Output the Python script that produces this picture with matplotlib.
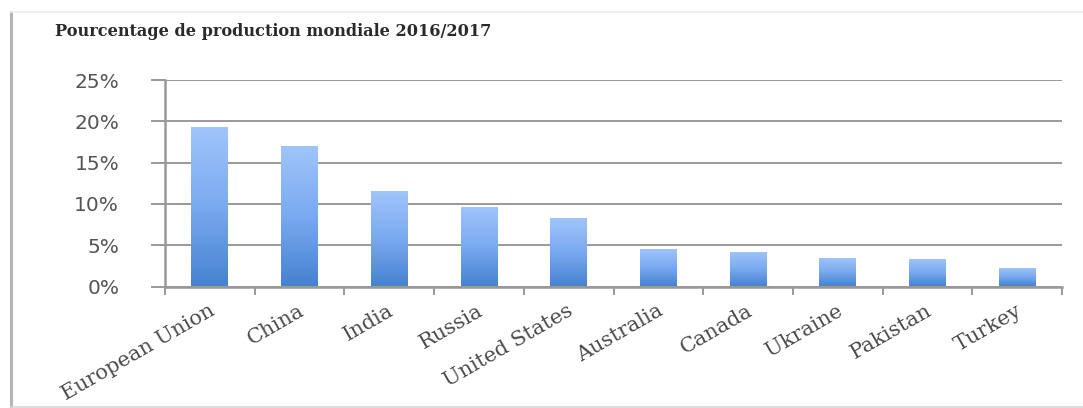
import numpy as np
import matplotlib
matplotlib.use("Agg")
import matplotlib.pyplot as plt
from matplotlib.lines import Line2D
from matplotlib.transforms import ScaledTranslation

# Share of world production, 2016/2017 (percent)
countries = ["European Union", "China", "India", "Russia", "United States",
             "Australia", "Canada", "Ukraine", "Pakistan", "Turkey"]
shares = [19.3, 17.0, 11.6, 9.6, 8.3, 4.6, 4.2, 3.5, 3.3, 2.2]
y_ticks = [0, 5, 10, 15, 20, 25]
y_tick_labels = ["0%", "5%", "10%", "15%", "20%", "25%"]
title_text = "Pourcentage de production mondiale 2016/2017"

W, H = 1083, 408
fig = plt.figure(figsize=(W / 100, H / 100), dpi=100)
fig.patch.set_facecolor("white")

ax = fig.add_axes([165 / W, 1 - 286.5 / H, (1062 - 165) / W, (286.5 - 80) / H])
ax.set_facecolor("white")

x = np.arange(len(countries))
bars = ax.bar(x, shares, width=0.41, facecolor="none", edgecolor="none", zorder=3)

# vertical blue gradient inside each bar
grad = np.linspace(0, 1, 256).reshape(-1, 1)
cmap = matplotlib.colors.LinearSegmentedColormap.from_list(
    "barblue", ["#4682d0", "#7aaaf0", "#a0c5fa"])
for b in bars:
    x0, w, h = b.get_x(), b.get_width(), b.get_height()
    im = ax.imshow(grad, cmap=cmap, origin="lower", aspect="auto",
                   extent=[x0, x0 + w, 0, h], zorder=3, interpolation="bilinear")
    im.set_clip_path(b)

ax.set_xlim(-0.5, len(countries) - 0.5)
ax.set_ylim(0, 25)

grid_col = "#999999"
ax.set_yticks(y_ticks)
ax.set_yticklabels(y_tick_labels, fontsize=14.5, color="#555555",
                   family="DejaVu Sans")
ax.tick_params(axis="y", direction="out", length=10, width=1.4,
               color=grid_col, pad=23)
ax.yaxis.grid(True, color=grid_col, linewidth=1.4, zorder=1)
ax.set_axisbelow(True)

ax.set_xticks(x)
ax.set_xticklabels(countries, rotation=30, ha="right", va="center",
                   rotation_mode="anchor", fontsize=15, color="#4a4a4a",
                   family="DejaVu Serif")
ax.tick_params(axis="x", which="major", length=0, pad=0)
ax.set_xticks(np.arange(-0.5, len(countries) + 0.5, 1), minor=True)
ax.tick_params(axis="x", which="minor", direction="out", length=6,
               width=1.4, color=grid_col)
shift = ScaledTranslation(3 / 100, -23 / 100, fig.dpi_scale_trans)
for lab in ax.get_xticklabels():
    lab.set_transform(lab.get_transform() + shift)

for side in ("top", "right"):
    ax.spines[side].set_visible(False)
for side in ("left", "bottom"):
    ax.spines[side].set_color(grid_col)
    ax.spines[side].set_linewidth(1.8)

fig.text(55 / W, 1 - 32 / H, title_text, fontsize=11.6, fontweight="bold",
         family="DejaVu Serif", color="#2a2a2a", ha="left", va="center")

# outer chart frame
fig.add_artist(Line2D([11 / W, 11 / W], [1 - 12 / H, 1 - 407 / H],
                      transform=fig.transFigure, color="#b4b4b4", linewidth=2.2))
fig.add_artist(Line2D([11 / W, 1], [1 - 12 / H, 1 - 12 / H],
                      transform=fig.transFigure, color="#ececec", linewidth=1.2))
fig.add_artist(Line2D([11 / W, 1], [1 - 406.5 / H, 1 - 406.5 / H],
                      transform=fig.transFigure, color="#d6d6d6", linewidth=1.2))

fig.savefig("out.png", dpi=100, facecolor="white")
